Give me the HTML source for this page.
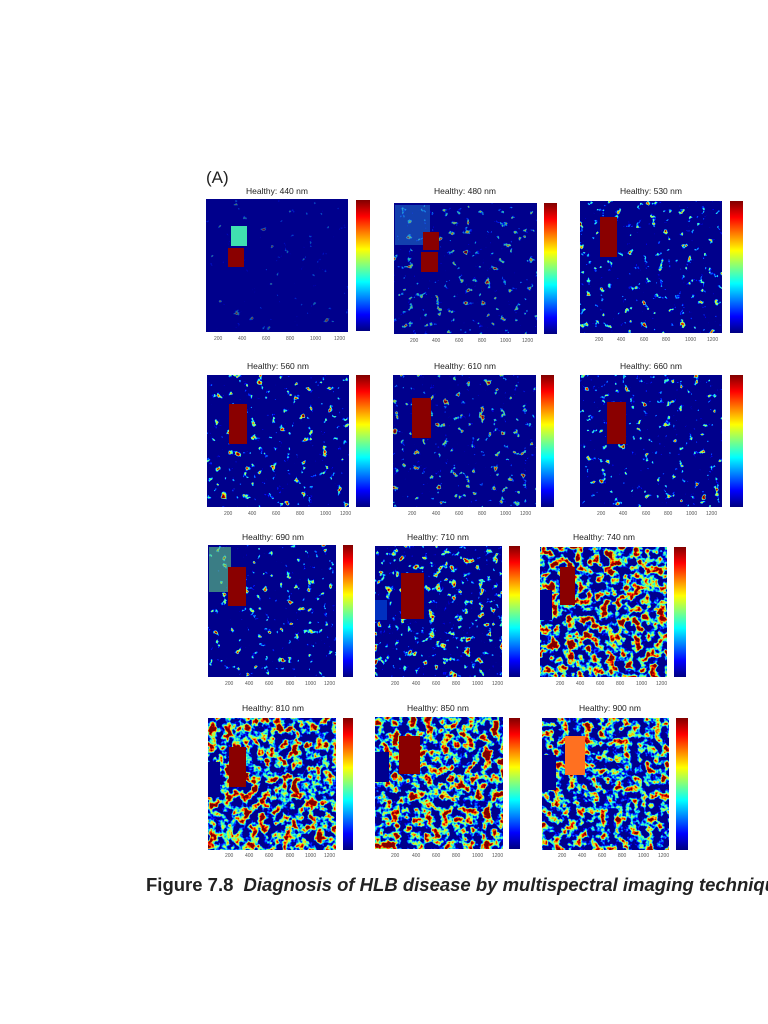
<!DOCTYPE html>
<html><head><meta charset="utf-8"><style>
html,body{margin:0;padding:0;background:#fff;width:768px;height:1024px;overflow:hidden}
svg{position:absolute;left:0;top:0}
</style></head><body>
<svg width="768" height="1024" viewBox="0 0 768 1024" xmlns="http://www.w3.org/2000/svg" font-family="Liberation Sans, sans-serif">
<defs>
<linearGradient id="jet" x1="0" y1="1" x2="0" y2="0">
<stop offset="0" stop-color="#000080"/><stop offset="0.125" stop-color="#0000ff"/><stop offset="0.375" stop-color="#00ffff"/><stop offset="0.625" stop-color="#ffff00"/><stop offset="0.875" stop-color="#ff0000"/><stop offset="1" stop-color="#800000"/>
</linearGradient>
<filter id="f1" x="0" y="0" width="1" height="1" color-interpolation-filters="sRGB"><feTurbulence type="fractalNoise" baseFrequency="0.12" numOctaves="3" seed="1"/><feColorMatrix type="matrix" values="6 0 0 0 -4.4 6 0 0 0 -4.4 6 0 0 0 -4.4 0 0 0 0 1"/><feComponentTransfer><feFuncR type="table" tableValues="0 0 0 0.125 0.5 0.875 1 1 0.5"/><feFuncG type="table" tableValues="0 0 0.5 1 1 1 0.5 0 0"/><feFuncB type="table" tableValues="0.55 1 1 0.875 0.5 0.125 0 0 0"/></feComponentTransfer></filter>
<filter id="f2" x="0" y="0" width="1" height="1" color-interpolation-filters="sRGB"><feTurbulence type="fractalNoise" baseFrequency="0.14" numOctaves="3" seed="4"/><feColorMatrix type="matrix" values="5 0 0 0 -3.3 5 0 0 0 -3.3 5 0 0 0 -3.3 0 0 0 0 1"/><feComponentTransfer><feFuncR type="table" tableValues="0 0 0 0.125 0.5 0.875 1 1 0.5"/><feFuncG type="table" tableValues="0 0 0.5 1 1 1 0.5 0 0"/><feFuncB type="table" tableValues="0.55 1 1 0.875 0.5 0.125 0 0 0"/></feComponentTransfer></filter>
<filter id="f3" x="0" y="0" width="1" height="1" color-interpolation-filters="sRGB"><feTurbulence type="fractalNoise" baseFrequency="0.14" numOctaves="3" seed="9"/><feColorMatrix type="matrix" values="4.5 0 0 0 -2.7 4.5 0 0 0 -2.7 4.5 0 0 0 -2.7 0 0 0 0 1"/><feComponentTransfer><feFuncR type="table" tableValues="0 0 0 0.125 0.5 0.875 1 1 0.5"/><feFuncG type="table" tableValues="0 0 0.5 1 1 1 0.5 0 0"/><feFuncB type="table" tableValues="0.55 1 1 0.875 0.5 0.125 0 0 0"/></feComponentTransfer></filter>
<filter id="f4" x="0" y="0" width="1" height="1" color-interpolation-filters="sRGB"><feTurbulence type="fractalNoise" baseFrequency="0.12" numOctaves="3" seed="17"/><feColorMatrix type="matrix" values="3.5 0 0 0 -1.45 3.5 0 0 0 -1.45 3.5 0 0 0 -1.45 0 0 0 0 1"/><feComponentTransfer><feFuncR type="table" tableValues="0 0 0 0.125 0.5 0.875 1 1 0.5"/><feFuncG type="table" tableValues="0 0 0.5 1 1 1 0.5 0 0"/><feFuncB type="table" tableValues="0.55 1 1 0.875 0.5 0.125 0 0 0"/></feComponentTransfer></filter>
<filter id="f5" x="0" y="0" width="1" height="1" color-interpolation-filters="sRGB"><feTurbulence type="fractalNoise" baseFrequency="0.13" numOctaves="3" seed="23"/><feColorMatrix type="matrix" values="3 0 0 0 -1.3 3 0 0 0 -1.3 3 0 0 0 -1.3 0 0 0 0 1"/><feComponentTransfer><feFuncR type="table" tableValues="0 0 0 0.125 0.5 0.875 1 1 0.5"/><feFuncG type="table" tableValues="0 0 0.5 1 1 1 0.5 0 0"/><feFuncB type="table" tableValues="0.55 1 1 0.875 0.5 0.125 0 0 0"/></feComponentTransfer></filter>
</defs>
<style>
.t{font-size:8.5px;fill:#222;text-anchor:middle}
.k{font-size:5px;fill:#555}
</style>

<text x="206" y="183" font-size="17" fill="#222">(A)</text>

<text class="t" x="277" y="194">Healthy: 440 nm</text>
<rect x="206" y="199" width="142" height="133" fill="#00008c"/>
<rect x="206" y="199" width="142" height="133" filter="url(#f1)" opacity="0.4"/>
<rect x="231" y="226" width="16" height="20" fill="#40e0b0"/>
<rect x="228" y="248" width="16" height="19" fill="#8a0000"/>
<rect x="356" y="200" width="14" height="131" fill="url(#jet)"/>

<text class="t" x="465" y="194">Healthy: 480 nm</text>
<rect x="394" y="203" width="143" height="131" fill="#00008c"/>
<rect x="394" y="203" width="143" height="131" filter="url(#f2)" opacity="0.7"/>
<rect x="395" y="205" width="35" height="40" fill="#30a0e0" opacity="0.4"/>
<rect x="423" y="232" width="16" height="18" fill="#8a0000"/>
<rect x="421" y="252" width="17" height="20" fill="#8a0000"/>
<rect x="544" y="203" width="13" height="131" fill="url(#jet)"/>

<text class="t" x="651" y="194">Healthy: 530 nm</text>
<rect x="580" y="201" width="142" height="132" fill="#00008c"/>
<rect x="580" y="201" width="142" height="132" filter="url(#f2)"/>
<rect x="600" y="217" width="17" height="40" fill="#8a0000"/>
<rect x="730" y="201" width="13" height="132" fill="url(#jet)"/>

<text class="t" x="278" y="369">Healthy: 560 nm</text>
<rect x="207" y="375" width="142" height="132" fill="#00008c"/>
<rect x="207" y="375" width="142" height="132" filter="url(#f2)"/>
<rect x="229" y="404" width="18" height="40" fill="#8a0000"/>
<rect x="356" y="375" width="14" height="132" fill="url(#jet)"/>

<text class="t" x="465" y="369">Healthy: 610 nm</text>
<rect x="393" y="375" width="143" height="132" fill="#00008c"/>
<rect x="393" y="375" width="143" height="132" filter="url(#f2)" opacity="0.8"/>
<rect x="412" y="398" width="19" height="40" fill="#8a0000"/>
<rect x="541" y="375" width="13" height="132" fill="url(#jet)"/>

<text class="t" x="651" y="369">Healthy: 660 nm</text>
<rect x="580" y="375" width="142" height="132" fill="#00008c"/>
<rect x="580" y="375" width="142" height="132" filter="url(#f2)"/>
<rect x="607" y="402" width="19" height="42" fill="#8a0000"/>
<rect x="730" y="375" width="13" height="132" fill="url(#jet)"/>

<text class="t" x="273" y="540">Healthy: 690 nm</text>
<rect x="208" y="545" width="128" height="132" fill="#00008c"/>
<rect x="208" y="545" width="128" height="132" filter="url(#f2)"/>
<rect x="209" y="547" width="22" height="45" fill="#60d080" opacity="0.6"/>
<rect x="228" y="567" width="18" height="39" fill="#8a0000"/>
<rect x="343" y="545" width="10" height="132" fill="url(#jet)"/>

<text class="t" x="438" y="540">Healthy: 710 nm</text>
<rect x="375" y="546" width="127" height="131" fill="#00008c"/>
<rect x="375" y="546" width="127" height="131" filter="url(#f3)"/>
<rect x="375" y="600" width="12" height="20" fill="#0030c0"/>
<rect x="401" y="573" width="23" height="46" fill="#8a0000"/>
<rect x="509" y="546" width="11" height="131" fill="url(#jet)"/>

<text class="t" x="604" y="540">Healthy: 740 nm</text>
<rect x="540" y="547" width="127" height="130" fill="#00008c"/>
<rect x="540" y="547" width="127" height="130" filter="url(#f4)"/>
<rect x="540" y="590" width="12" height="30" fill="#000090"/>
<rect x="560" y="567" width="15" height="38" fill="#8a0000"/>
<rect x="674" y="547" width="12" height="130" fill="url(#jet)"/>

<text class="t" x="273" y="711">Healthy: 810 nm</text>
<rect x="208" y="718" width="128" height="132" fill="#00008c"/>
<rect x="208" y="718" width="128" height="132" filter="url(#f4)"/>
<rect x="208" y="762" width="12" height="35" fill="#000090"/>
<rect x="229" y="747" width="17" height="40" fill="#8a0000"/>
<rect x="343" y="718" width="10" height="132" fill="url(#jet)"/>

<text class="t" x="438" y="711">Healthy: 850 nm</text>
<rect x="375" y="717" width="128" height="132" fill="#00008c"/>
<rect x="375" y="717" width="128" height="132" filter="url(#f4)"/>
<rect x="375" y="752" width="14" height="30" fill="#000090"/>
<rect x="399" y="736" width="21" height="38" fill="#8a0000"/>
<rect x="509" y="718" width="11" height="131" fill="url(#jet)"/>

<text class="t" x="610" y="711">Healthy: 900 nm</text>
<rect x="542" y="718" width="127" height="132" fill="#00008c"/>
<rect x="542" y="718" width="127" height="132" filter="url(#f5)"/>
<rect x="542" y="755" width="14" height="35" fill="#000090"/>
<rect x="565" y="736" width="20" height="39" fill="#ff7020"/>
<rect x="676" y="718" width="12" height="132" fill="url(#jet)"/>

<g class="k">
<text x="214" y="340">200</text><text x="238" y="340">400</text><text x="262" y="340">600</text><text x="286" y="340">800</text><text x="310" y="340">1000</text><text x="334" y="340">1200</text>
<text x="410" y="342">200</text><text x="432" y="342">400</text><text x="455" y="342">600</text><text x="478" y="342">800</text><text x="500" y="342">1000</text><text x="522" y="342">1200</text>
<text x="595" y="341">200</text><text x="617" y="341">400</text><text x="640" y="341">600</text><text x="662" y="341">800</text><text x="685" y="341">1000</text><text x="707" y="341">1200</text>
<text x="224" y="515">200</text><text x="248" y="515">400</text><text x="272" y="515">600</text><text x="296" y="515">800</text><text x="320" y="515">1000</text><text x="340" y="515">1200</text>
<text x="408" y="515">200</text><text x="432" y="515">400</text><text x="455" y="515">600</text><text x="478" y="515">800</text><text x="500" y="515">1000</text><text x="520" y="515">1200</text>
<text x="597" y="515">200</text><text x="619" y="515">400</text><text x="642" y="515">600</text><text x="664" y="515">800</text><text x="686" y="515">1000</text><text x="706" y="515">1200</text>
<text x="225" y="685">200</text><text x="245" y="685">400</text><text x="265" y="685">600</text><text x="286" y="685">800</text><text x="305" y="685">1000</text><text x="324" y="685">1200</text>
<text x="391" y="685">200</text><text x="412" y="685">400</text><text x="432" y="685">600</text><text x="452" y="685">800</text><text x="472" y="685">1000</text><text x="492" y="685">1200</text>
<text x="556" y="685">200</text><text x="576" y="685">400</text><text x="596" y="685">600</text><text x="616" y="685">800</text><text x="636" y="685">1000</text><text x="656" y="685">1200</text>
<text x="225" y="857">200</text><text x="245" y="857">400</text><text x="265" y="857">600</text><text x="286" y="857">800</text><text x="305" y="857">1000</text><text x="324" y="857">1200</text>
<text x="391" y="857">200</text><text x="412" y="857">400</text><text x="432" y="857">600</text><text x="452" y="857">800</text><text x="472" y="857">1000</text><text x="492" y="857">1200</text>
<text x="558" y="857">200</text><text x="578" y="857">400</text><text x="598" y="857">600</text><text x="618" y="857">800</text><text x="638" y="857">1000</text><text x="658" y="857">1200</text>
</g>

<text x="146" y="891" font-size="18.5" font-weight="bold" fill="#222">Figure 7.8 <tspan dx="5" font-style="italic">Diagnosis of HLB disease by multispectral imaging technique</tspan></text>
</svg>
</body></html>
